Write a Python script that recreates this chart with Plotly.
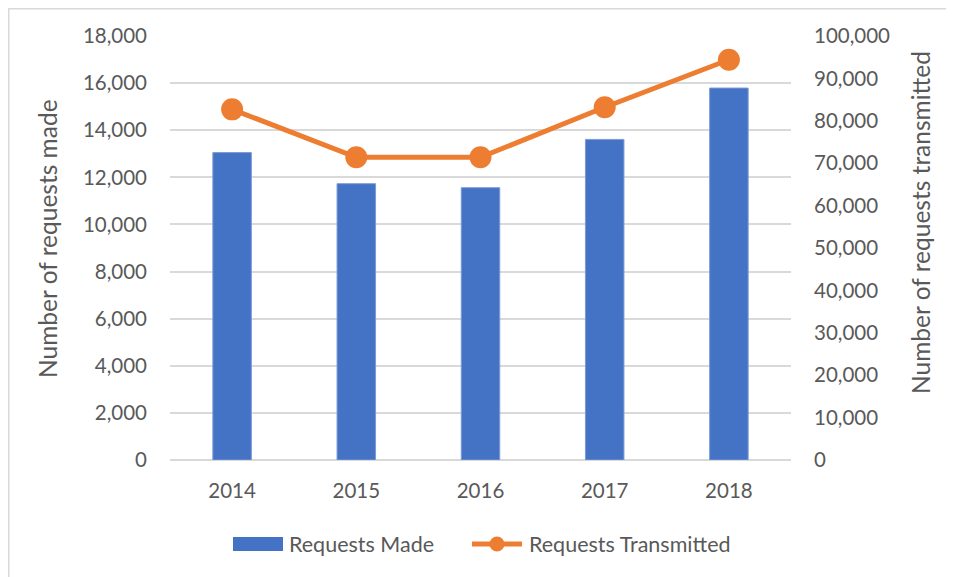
import plotly.graph_objects as go

years = ["2014", "2015", "2016", "2017", "2018"]
requests_made = [13050, 11730, 11560, 13610, 15790]
requests_transmitted = [82700, 71400, 71400, 83200, 94400]

left_ticks = list(range(0, 18001, 2000))
right_ticks = list(range(0, 100001, 10000))

# the page body has an 8px margin; work in page pixels and convert
OFF = 8
W, H = 954 - OFF, 577 - OFF
PL, PR, PT, PB = 170, 791, 36, 460  # plot area in page pixels
L, T = PL - OFF, PT - OFF
R, B = W - (PR - OFF), H - (PB - OFF)
pw, ph = PR - PL, PB - PT

def px_x(x):
    return (x - PL) / pw

def px_y(y):
    return (PB - y) / ph

FONT = "Lato"
GRAY = "#595959"
GRID = "#D9D9D9"
BLUE = "#4472C4"
ORANGE = "#ED7D31"

fig = go.Figure()
fig.add_trace(go.Bar(
    x=years, y=requests_made, name="Requests Made",
    marker=dict(color=BLUE, line=dict(color="#7A9BD6", width=1)),
    width=0.31, yaxis="y",
))
fig.add_trace(go.Scatter(
    x=years, y=requests_transmitted, name="Requests Transmitted",
    mode="lines+markers",
    line=dict(color=ORANGE, width=5),
    marker=dict(color=ORANGE, size=22),
    yaxis="y2",
))

LEG_Y = px_y(544)
fig.update_layout(
    width=W, height=H,
    margin=dict(l=L, r=R, t=T, b=B, pad=0),
    paper_bgcolor="white", plot_bgcolor="white",
    font=dict(family=FONT, color=GRAY, size=20),
    showlegend=False,
    xaxis=dict(
        type="category", showgrid=False, showline=False, zeroline=False,
        ticks="", ticklabelstandoff=16, tickfont=dict(size=20.5, color=GRAY),
    ),
    yaxis=dict(
        range=[0, 18000], tickvals=left_ticks, tickformat=",",
        showgrid=True, gridcolor=GRID, gridwidth=1.5,
        zeroline=True, zerolinecolor=GRID, zerolinewidth=1.5,
        showline=False, ticks="", ticklabelstandoff=22,
        tickfont=dict(size=20.5, color=GRAY),
    ),
    yaxis2=dict(
        range=[0, 100000], tickvals=right_ticks, tickformat=",",
        overlaying="y", side="right", showgrid=False, zeroline=False,
        showline=False, ticks="", ticklabelstandoff=22,
        tickfont=dict(size=20.5, color=GRAY),
    ),
    annotations=[
        dict(text="Number of requests made", xref="paper", yref="paper",
             x=px_x(48), y=px_y(238), textangle=-90, showarrow=False,
             xanchor="center", yanchor="middle",
             font=dict(size=24.5, color=GRAY, family=FONT)),
        dict(text="Number of requests transmitted", xref="paper", yref="paper",
             x=px_x(920), y=px_y(223), textangle=-90, showarrow=False,
             xanchor="center", yanchor="middle",
             font=dict(size=24.5, color=GRAY, family=FONT)),
        dict(text="Requests Made", xref="paper", yref="paper",
             x=px_x(287), y=LEG_Y, showarrow=False,
             xanchor="left", yanchor="middle",
             font=dict(size=21.5, color=GRAY, family=FONT)),
        dict(text="Requests Transmitted", xref="paper", yref="paper",
             x=px_x(527), y=LEG_Y, showarrow=False,
             xanchor="left", yanchor="middle",
             font=dict(size=21.5, color=GRAY, family=FONT)),
    ],
    shapes=[
        # chart border (left and top edges visible)
        dict(type="line", xref="paper", yref="paper",
             x0=px_x(OFF + 0.75), x1=px_x(OFF + 0.75), y0=px_y(577), y1=px_y(OFF + 0.75),
             line=dict(color=GRID, width=1.5)),
        dict(type="line", xref="paper", yref="paper",
             x0=px_x(OFF), x1=px_x(954), y0=px_y(OFF + 0.75), y1=px_y(OFF + 0.75),
             line=dict(color=GRID, width=1.5)),
        # legend swatches
        dict(type="rect", xref="paper", yref="paper",
             x0=px_x(233), x1=px_x(283), y0=px_y(551), y1=px_y(537),
             line=dict(width=0), fillcolor=BLUE),
        dict(type="line", xref="paper", yref="paper",
             x0=px_x(472), x1=px_x(522), y0=LEG_Y, y1=LEG_Y,
             line=dict(color=ORANGE, width=5)),
        dict(type="circle", xref="paper", yref="paper",
             x0=px_x(489.5), x1=px_x(504.5), y0=px_y(551.5), y1=px_y(536.5),
             line=dict(width=0), fillcolor=ORANGE),
    ],
)

fig.write_html("out.html")
